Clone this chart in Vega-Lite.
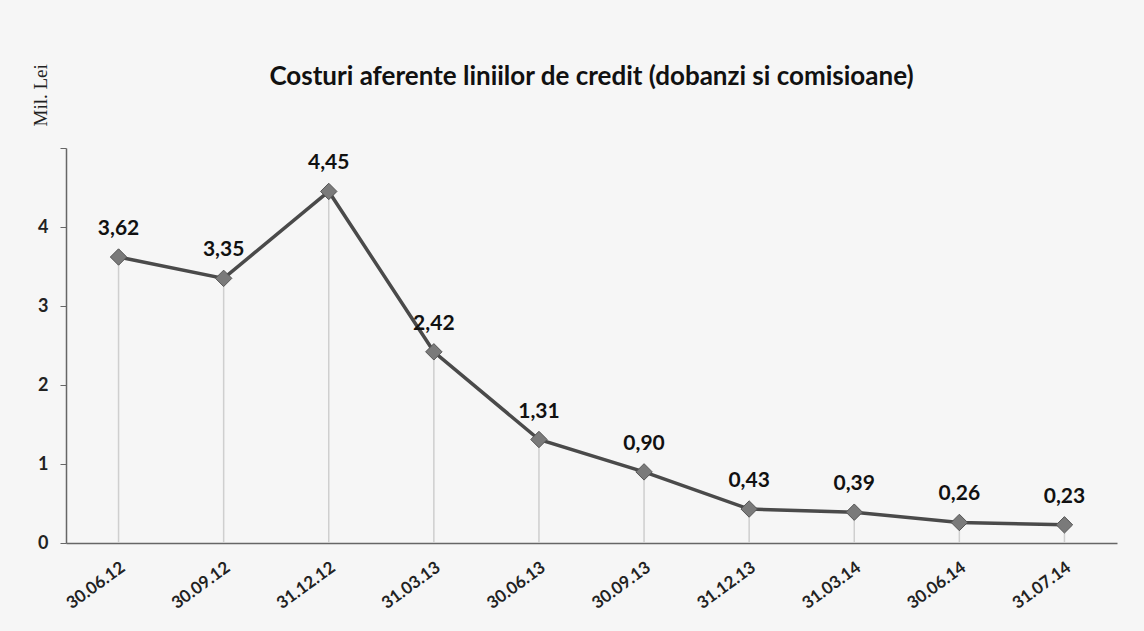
{
  "$schema": "https://vega.github.io/schema/vega-lite/v6.json",
  "autosize": {"type": "none"},
  "width": 1051,
  "height": 395,
  "padding": {"left": 66, "top": 148, "right": 27, "bottom": 88},
  "background": "#f6f6f6",
  "title": {
    "text": "Costuri aferente liniilor de credit (dobanzi si comisioane)",
    "font": "Lato",
    "fontSize": 26,
    "fontWeight": "bold",
    "color": "#111111",
    "anchor": "middle",
    "offset": -26
  },
  "data": {
    "values": [
      {"data": "30.06.12", "valoare": 3.62},
      {"data": "30.09.12", "valoare": 3.35},
      {"data": "31.12.12", "valoare": 4.45},
      {"data": "31.03.13", "valoare": 2.42},
      {"data": "30.06.13", "valoare": 1.31},
      {"data": "30.09.13", "valoare": 0.90},
      {"data": "31.12.13", "valoare": 0.43},
      {"data": "31.03.14", "valoare": 0.39},
      {"data": "30.06.14", "valoare": 0.26},
      {"data": "31.07.14", "valoare": 0.23}
    ]
  },
  "encoding": {
    "x": {
      "field": "data",
      "type": "ordinal",
      "sort": null,
      "scale": {"type": "band", "paddingInner": 0, "paddingOuter": 0},
      "axis": {
        "title": null,
        "labelAngle": -36,
        "labelFont": "Lato",
        "labelFontSize": 17,
        "labelFontWeight": "bold",
        "labelColor": "#222222",
        "labelPadding": 16,
        "ticks": false,
        "domainColor": "#666666",
        "domainWidth": 1.5,
        "grid": false
      }
    },
    "y": {
      "field": "valoare",
      "type": "quantitative",
      "scale": {"domain": [0, 5], "nice": false},
      "axis": {
        "values": [0, 1, 2, 3, 4, 5],
        "labelExpr": "datum.value == 5 ? '' : datum.label",
        "format": "d",
        "title": "Mil. Lei",
        "titleFont": "Liberation Serif",
        "titleFontSize": 19,
        "titleFontWeight": "normal",
        "titleColor": "#222222",
        "titleAngle": -90,
        "titleAlign": "left",
        "titleBaseline": "middle",
        "titleX": -26,
        "titleY": -22,
        "labelFont": "Lato",
        "labelFontSize": 18,
        "labelFontWeight": "bold",
        "labelColor": "#222222",
        "labelPadding": 12,
        "tickSize": 6,
        "tickColor": "#666666",
        "domainColor": "#666666",
        "domainWidth": 1.5,
        "grid": false
      }
    }
  },
  "layer": [
    {
      "mark": {"type": "rule", "color": "#cfcfcf", "strokeWidth": 1.5},
      "encoding": {"y2": {"datum": 0}}
    },
    {
      "mark": {"type": "line", "color": "#4a4a4a", "strokeWidth": 3.5}
    },
    {
      "mark": {"type": "point", "shape": "diamond", "filled": true, "size": 270, "color": "#7a7a7a", "stroke": "#555555", "strokeWidth": 1, "opacity": 1}
    },
    {
      "mark": {"type": "text", "font": "Lato", "fontSize": 21, "fontWeight": "bold", "color": "#111111", "baseline": "alphabetic", "dy": -22},
      "encoding": {"text": {"field": "valoare", "type": "quantitative", "format": ".2f"}}
    }
  ],
  "config": {
    "view": {"stroke": null},
    "locale": {
      "number": {"decimal": ",", "thousands": ".", "grouping": [3], "currency": ["", " lei"]}
    }
  }
}
